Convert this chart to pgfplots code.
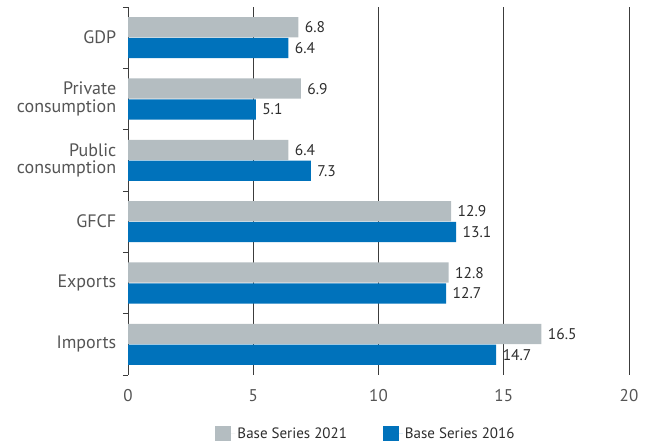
\documentclass[border=0pt]{standalone}
\usepackage{fontspec}
\setmainfont{PT Sans}
\usepackage{pgfplots}
\pgfplotsset{compat=1.18}
\definecolor{bgrey}{RGB}{180,189,193}
\definecolor{bblue}{RGB}{0,114,187}
\definecolor{tgrey}{RGB}{85,85,85}
\definecolor{tdark}{RGB}{45,45,45}
\definecolor{gridc}{RGB}{60,60,60}
\begin{document}
\begin{tikzpicture}
\begin{axis}[
  at={(128pt,69pt)}, anchor=south west,
  scale only axis, width=501pt, height=368pt,
  xbar, y dir=reverse,
  /pgf/number format/assume math mode=true,
  xmin=0, xmax=20, ymin=-0.5, ymax=5.5,
  xtick={0,5,10,15,20},
  xmajorgrids, grid style={gridc, line width=0.8pt},
  axis x line*=bottom, x axis line style={draw=none},
  axis y line*=left, y axis line style={gridc, line width=0.8pt},
  x tick style={draw=none},
  xticklabel style={font=\fontsize{17}{17}\selectfont, text=tgrey, yshift=-11pt},
  ytick={0,1,2,3,4,5},
  yticklabels={GDP,{Private\\consumption},{Public\\consumption},GFCF,Exports,Imports},
  yticklabel style={align=right, font=\fontsize{18}{17.5}\selectfont, text=tgrey, xshift=-4pt},
  y tick style={draw=none},
  extra y ticks={-0.5,0.5,1.5,2.5,3.5,4.5,5.5},
  extra y tick labels={},
  extra y tick style={y tick style={draw=gridc, line width=0.8pt}, major tick length=5pt, tick align=outside, tick pos=left},
  bar width=0.33,
  nodes near coords={\pgfmathprintnumber[fixed,precision=1,fixed zerofill]{\pgfplotspointmeta}},
  every node near coord/.append style={font=\fontsize{15.5}{15.5}\selectfont, text=tdark, anchor=west, xshift=3pt},
  legend style={at={(0.475,-0.159)}, anchor=center, draw=none, fill=none,
    legend columns=2, font=\fontsize{15}{15}\selectfont, text=tdark,
    /tikz/every even column/.append style={column sep=34pt}},
  legend image code/.code={\fill[#1,draw=none] (0pt,-7.5pt) rectangle (16pt,7.5pt); \path (0pt,0pt) -- (20pt,0pt);},
]
\addplot[fill=bgrey, draw=none, bar shift=-0.17] coordinates {(6.8,0) (6.9,1) (6.4,2) (12.9,3) (12.8,4) (16.5,5)};
\addplot[fill=bblue, draw=none, bar shift=0.17] coordinates {(6.4,0) (5.1,1) (7.3,2) (13.1,3) (12.7,4) (14.7,5)};
\legend{Base Series 2021, Base Series 2016}
\end{axis}
\pgfresetboundingbox
\path (0,0) rectangle (653pt,444pt);
\end{tikzpicture}
\end{document}
